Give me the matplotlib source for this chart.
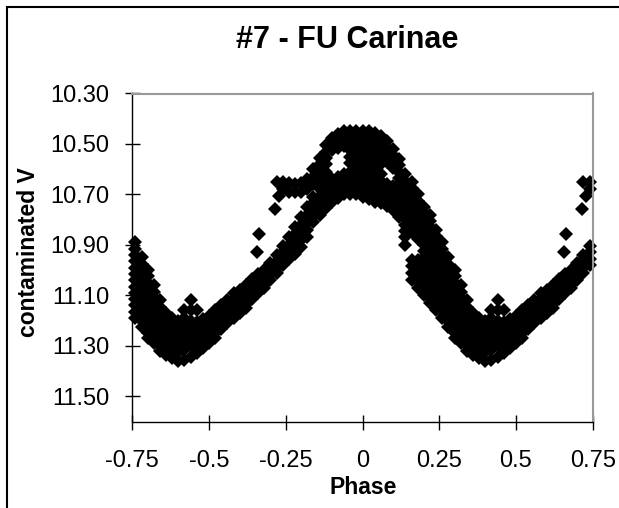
import matplotlib
matplotlib.use('Agg')
import matplotlib.pyplot as plt
from matplotlib.patches import Rectangle
import numpy as np

plt.rcParams['font.family'] = ['Liberation Sans', 'DejaVu Sans']

# FU Carinae, phased light curve
# main band: phase of each column and the V values seen in it
band_phase = [-0.50, -0.48, -0.46, -0.44, -0.42, -0.40, -0.38, -0.36, -0.34, -0.32,
              -0.30, -0.28, -0.26, -0.24, -0.22, -0.20, -0.18, -0.16, -0.14, -0.12,
              -0.10, -0.08, -0.06, -0.04, -0.02, 0.00, 0.02, 0.04, 0.06, 0.08,
              0.10, 0.12, 0.14, 0.16, 0.18, 0.20, 0.22, 0.24, 0.26, 0.28,
              0.30, 0.32, 0.34, 0.36, 0.38, 0.40, 0.42, 0.44, 0.46, 0.48]
band_v = [
    [11.18, 11.21, 11.24, 11.265, 11.29],
    [11.16, 11.19, 11.22, 11.25, 11.27],
    [11.14, 11.165, 11.19, 11.215, 11.235],
    [11.12, 11.15, 11.18, 11.21],
    [11.09, 11.115, 11.14, 11.165, 11.19],
    [11.08, 11.11, 11.14, 11.17],
    [11.06, 11.085, 11.11, 11.135, 11.15],
    [11.035, 11.065, 11.09, 11.115],
    [11.015, 11.04, 11.065, 11.09],
    [11.0, 11.03, 11.055, 11.07],
    [10.97, 10.995, 11.02, 11.04],
    [10.94, 10.965, 10.99, 11.01],
    [10.905, 10.93, 10.955, 10.98],
    [10.87, 10.90, 10.93, 10.955],
    [10.83, 10.855, 10.88, 10.91, 10.935],
    [10.79, 10.82, 10.85, 10.88, 10.91],
    [10.75, 10.78, 10.81, 10.84, 10.87],
    [10.71, 10.735, 10.76, 10.785, 10.81],
    [10.68, 10.705, 10.73, 10.755, 10.78],
    [10.66, 10.685, 10.71, 10.735, 10.755],
    [10.64, 10.665, 10.69, 10.71, 10.73],
    [10.63, 10.655, 10.68, 10.70, 10.715],
    [10.62, 10.645, 10.67, 10.70],
    [10.61, 10.635, 10.66, 10.685, 10.70],
    [10.60, 10.625, 10.65, 10.675, 10.70],
    [10.60, 10.63, 10.655, 10.68, 10.71],
    [10.60, 10.625, 10.65, 10.675, 10.70, 10.72],
    [10.61, 10.635, 10.66, 10.685, 10.71, 10.73],
    [10.62, 10.645, 10.67, 10.695, 10.72, 10.735],
    [10.66, 10.69, 10.72, 10.745],
    [10.665, 10.69, 10.715, 10.74, 10.76],
    [10.69, 10.715, 10.74, 10.765, 10.79],
    [10.62, 10.645, 10.67, 10.695, 10.72, 10.745, 10.77, 10.795, 10.82, 10.845, 10.87, 10.90],
    [10.65, 10.675, 10.70, 10.725, 10.75, 10.775, 10.80, 10.825, 10.85, 10.96, 10.985, 11.01, 11.04],
    [10.70, 10.725, 10.75, 10.775, 10.80, 10.825, 10.85, 10.875, 10.96, 10.99, 11.02, 11.045, 11.07],
    [10.75, 10.775, 10.80, 10.825, 10.85, 10.875, 10.90, 10.925, 10.95, 10.975, 11.0, 11.025, 11.05, 11.075, 11.10],
    [10.78, 10.805, 10.83, 10.855, 10.88, 10.905, 10.93, 10.955, 10.98, 11.005, 11.03, 11.055, 11.08, 11.105, 11.13],
    [10.84, 10.865, 10.89, 10.915, 10.94, 10.965, 10.99, 11.015, 11.04, 11.065, 11.09, 11.115, 11.14, 11.16],
    [10.89, 10.915, 10.94, 10.965, 10.99, 11.015, 11.04, 11.065, 11.09, 11.115, 11.14, 11.165, 11.19],
    [10.95, 10.975, 11.0, 11.025, 11.05, 11.075, 11.10, 11.125, 11.15, 11.175, 11.20, 11.225],
    [11.0, 11.025, 11.05, 11.075, 11.10, 11.125, 11.15, 11.175, 11.20, 11.225, 11.25, 11.27],
    [11.06, 11.085, 11.11, 11.135, 11.16, 11.185, 11.21, 11.235, 11.26, 11.29],
    [11.12, 11.145, 11.17, 11.195, 11.22, 11.245, 11.27, 11.295, 11.32],
    [11.17, 11.195, 11.22, 11.245, 11.27, 11.295, 11.32, 11.335],
    [11.19, 11.215, 11.24, 11.265, 11.29, 11.315, 11.35],
    [11.20, 11.225, 11.25, 11.275, 11.30, 11.325, 11.36],
    [11.16, 11.19, 11.215, 11.24, 11.265, 11.29, 11.315, 11.355],
    [11.12, 11.16, 11.20, 11.225, 11.25, 11.275, 11.30, 11.345],
    [11.16, 11.205, 11.23, 11.255, 11.28, 11.305, 11.33],
    [11.195, 11.22, 11.245, 11.27, 11.295, 11.31],
]

# brighter hump around maximum
hump_phase = [-0.28, -0.26, -0.24, -0.22, -0.20, -0.18, -0.16, -0.14, -0.12, -0.10,
              -0.08, -0.06, -0.04, -0.02, 0.00, 0.02, 0.04, 0.06, 0.08, 0.10, 0.12]
hump_v = [
    [10.65],
    [10.65, 10.68],
    [10.655, 10.69],
    [10.66, 10.69],
    [10.655, 10.69],
    [10.64, 10.68],
    [10.60, 10.63, 10.66],
    [10.555, 10.58, 10.61, 10.64],
    [10.505, 10.53, 10.555, 10.58, 10.61],
    [10.475, 10.50, 10.525],
    [10.46, 10.49, 10.515],
    [10.45, 10.48, 10.51],
    [10.45, 10.475, 10.50, 10.525, 10.55, 10.575],
    [10.45, 10.475, 10.50, 10.525, 10.55, 10.575],
    [10.45, 10.475, 10.50, 10.525, 10.55, 10.575],
    [10.45, 10.475, 10.50, 10.525, 10.55, 10.58],
    [10.455, 10.48, 10.505, 10.53, 10.555, 10.59],
    [10.47, 10.495, 10.52, 10.545, 10.58],
    [10.49, 10.515, 10.54, 10.57],
    [10.52, 10.545, 10.57, 10.595],
    [10.56, 10.585, 10.61, 10.635, 10.66],
]

# stray points
odd_phase = [-0.345, -0.336, -0.285, -0.271]
odd_v = [10.927, 10.857, 10.759, 10.706]

y_ticks = [10.30, 10.50, 10.70, 10.90, 11.10, 11.30, 11.50]
x_ticks = [-0.75, -0.5, -0.25, 0, 0.25, 0.5, 0.75]
x_labels = ['-0.75', '-0.5', '-0.25', '0', '0.25', '0.5', '0.75']

ph, v = [], []
for p, col in zip(band_phase + hump_phase, band_v + hump_v):
    ph += [p] * len(col)
    v += col
ph = np.array(ph + odd_phase)
v = np.array(v + odd_v)

# the sheet repeats the cycle: phase-1 and phase+1 copies
right = ph >= 0.25
left = ph <= -0.25
ph_all = np.concatenate([ph, ph[right] - 1, ph[left] + 1])
v_all = np.concatenate([v, v[right], v[left]])

fig = plt.figure(figsize=(6.19, 5.08), dpi=100)
ax = fig.add_axes([132.3 / 619, 1 - 421.5 / 508, 460.4 / 619, 328 / 508])

ax.plot(ph_all, v_all, ls='none', marker='D', ms=7.5, mew=0, color='black', clip_on=False)

ax.set_xlim(-0.75, 0.75)
ax.set_ylim(11.60, 10.30)
ax.set_xticks(x_ticks)
ax.set_xticklabels(x_labels)
ax.set_yticks(y_ticks)
ax.set_yticklabels(['%.2f' % t for t in y_ticks])
ax.tick_params(direction='inout', length=10.8, width=1.0, labelsize=17, color='black')
ax.tick_params(axis='y', pad=11)
ax.tick_params(axis='x', pad=15)

for s in ['left', 'bottom']:
    ax.spines[s].set_color('black')
    ax.spines[s].set_linewidth(1.0)
for s in ['top', 'right']:
    ax.spines[s].set_color('#999999')
    ax.spines[s].set_linewidth(1.5)

fig.text(347 / 619, 1 - 40 / 508, '#7 - FU Carinae', ha='center', va='center',
         fontsize=22, fontweight='bold')
fig.text(29 / 619, 1 - 252 / 508, 'contaminated V', ha='center', va='center',
         rotation=90, fontsize=16.5, fontweight='bold')
fig.text(363 / 619, 1 - 487 / 508, 'Phase', ha='center', va='center',
         fontsize=16.5, fontweight='bold')

# outer chart border
fig.patches.append(Rectangle((7 / 619, -0.1), 1.2, 1.1 - 7 / 508, transform=fig.transFigure,
                             fill=False, ec='black', lw=1.5))

fig.savefig('out.png', dpi=100)
